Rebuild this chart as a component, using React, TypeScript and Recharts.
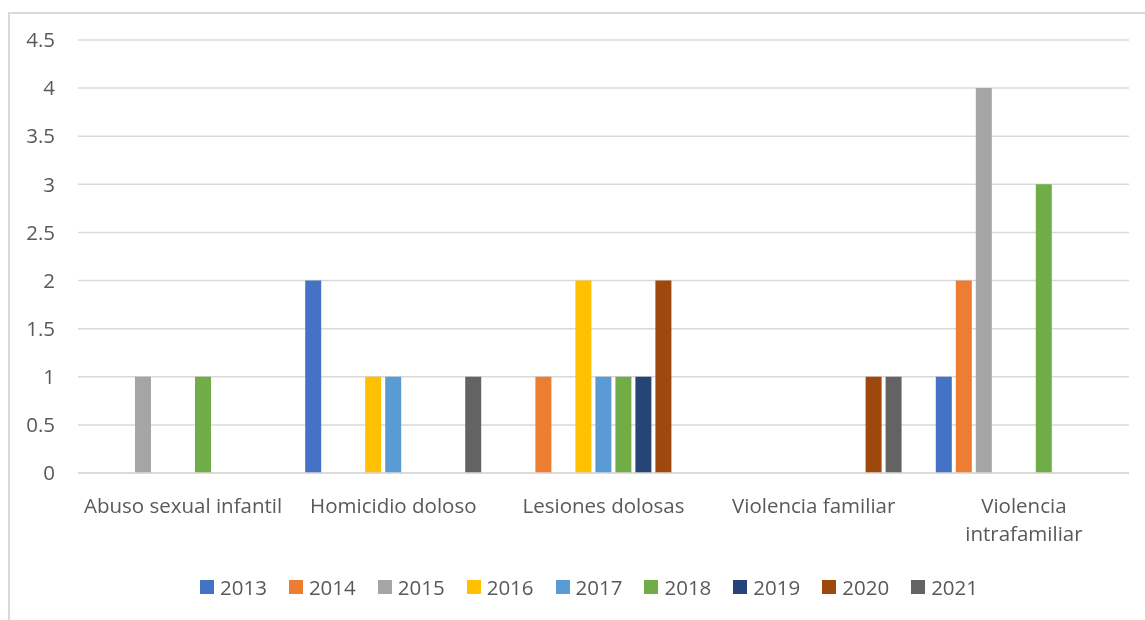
import React from 'react';
import { BarChart, Bar, XAxis, YAxis, CartesianGrid } from 'recharts';

const categories = [
  'Abuso sexual infantil',
  'Homicidio doloso',
  'Lesiones dolosas',
  'Violencia familiar',
  'Violencia intrafamiliar',
];

const years = ['2013', '2014', '2015', '2016', '2017', '2018', '2019', '2020', '2021'];

const v2013 = [0, 2, 0, 0, 1];
const v2014 = [0, 0, 1, 0, 2];
const v2015 = [1, 0, 0, 0, 4];
const v2016 = [0, 1, 2, 0, 0];
const v2017 = [0, 1, 1, 0, 0];
const v2018 = [1, 0, 1, 0, 3];
const v2019 = [0, 0, 1, 0, 0];
const v2020 = [0, 0, 2, 1, 0];
const v2021 = [0, 1, 0, 1, 0];

const seriesValues = [v2013, v2014, v2015, v2016, v2017, v2018, v2019, v2020, v2021];

const colors = ['#4472C4', '#ED7D31', '#A5A5A5', '#FFC000', '#5B9BD5', '#70AD47', '#264478', '#9E480E', '#636363'];

const yTicks = [0, 0.5, 1, 1.5, 2, 2.5, 3, 3.5, 4, 4.5];

const data = categories.map((c, i) => {
  const row: Record<string, string | number> = { category: c };
  years.forEach((y, j) => {
    row[y] = seriesValues[j][i];
  });
  return row;
});

const FONT = '"Open Sans", sans-serif';
const TEXT_COLOR = '#595959';
const GRID = '#d9d9d9';

function splitLabel(label: string): string[] {
  if (label.length <= 21) return [label];
  const idx = label.lastIndexOf(' ');
  return [label.slice(0, idx), label.slice(idx + 1)];
}

const XTick = (props: any) => {
  const { x, y, payload } = props;
  const lines = splitLabel(String(payload.value));
  return (
    <text
      x={x}
      y={y + 40}
      textAnchor="middle"
      fill={TEXT_COLOR}
      fontFamily={FONT}
      fontSize={20.5}
    >
      {lines.map((l, i) => (
        <tspan key={i} x={x} dy={i === 0 ? 0 : 28}>
          {l}
        </tspan>
      ))}
    </text>
  );
};

export default function App() {
  return (
    <div style={{ position: 'relative', width: 1137, height: 604 }}>
      <div
        style={{
          position: 'fixed',
          left: 8,
          top: 12,
          width: 3000,
          height: 3000,
          borderTop: '2px solid #d9d9d9',
          borderLeft: '2px solid #d9d9d9',
          pointerEvents: 'none',
        }}
      />
      <BarChart
        width={1137}
        height={604}
        data={data}
        margin={{ top: 32, right: 16, bottom: 109, left: 0 }}
        barCategoryGap={17}
        barGap={4}
      >
        <CartesianGrid vertical={false} stroke={GRID} strokeWidth={1.5} />
        <XAxis
          dataKey="category"
          height={30}
          axisLine={{ stroke: GRID, strokeWidth: 1.5 }}
          tickLine={false}
          tickSize={0}
          tickMargin={0}
          interval={0}
          tick={<XTick />}
        />
        <YAxis
          width={70}
          domain={[0, 4.5]}
          ticks={yTicks}
          axisLine={false}
          tickLine={false}
          tickSize={0}
          tickMargin={23}
          tick={{ fill: TEXT_COLOR, fontFamily: FONT, fontSize: 20.5 }}
        />
        {years.map((y, j) => (
          <Bar key={y} dataKey={y} fill={colors[j]} isAnimationActive={false} />
        ))}
      </BarChart>
      <div
        style={{
          position: 'absolute',
          left: 192,
          top: 565,
          display: 'flex',
          alignItems: 'center',
          fontFamily: FONT,
          fontSize: 20.5,
          color: TEXT_COLOR,
          whiteSpace: 'nowrap',
        }}
      >
        {years.map((y, j) => (
          <div key={y} style={{ display: 'flex', alignItems: 'center', marginRight: 22 }}>
            <span style={{ display: 'inline-block', width: 14, height: 14, background: colors[j], marginRight: 6 }} />
            <span style={{ lineHeight: '28px' }}>{y}</span>
          </div>
        ))}
      </div>
    </div>
  );
}
